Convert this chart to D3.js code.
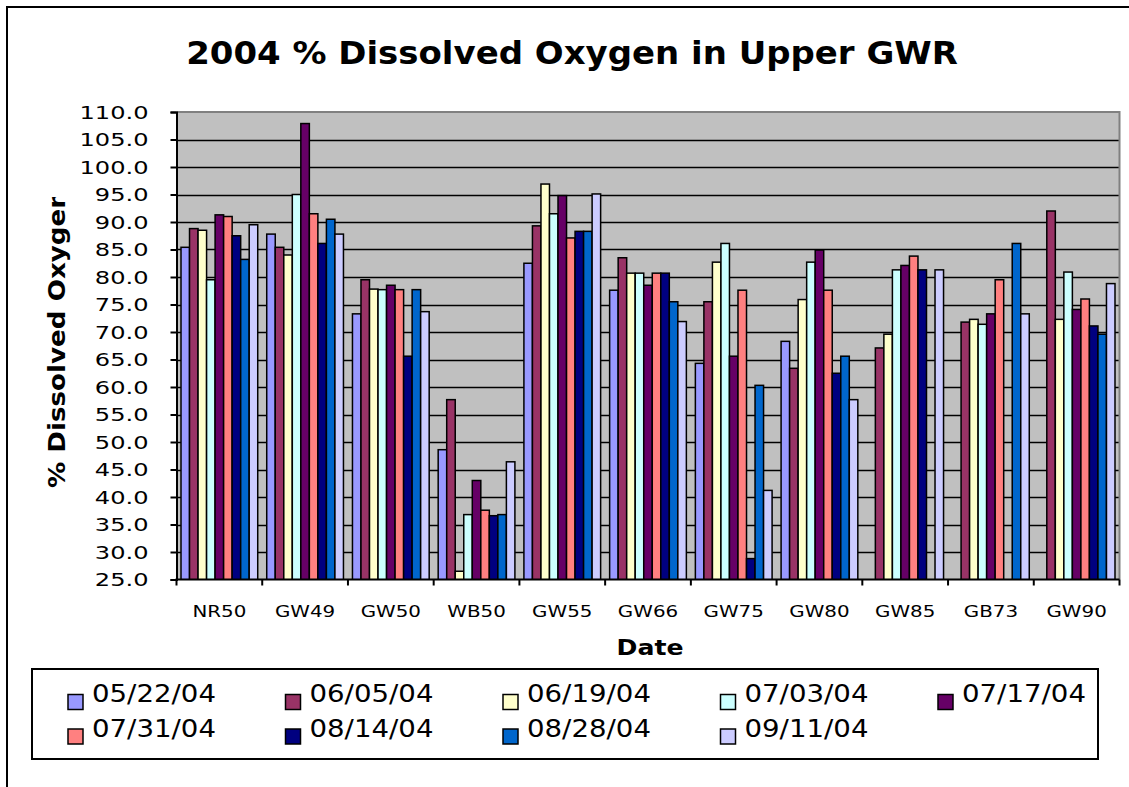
<!DOCTYPE html>
<html>
<head>
<meta charset="utf-8">
<script src="https://cdn.jsdelivr.net/npm/d3@7"></script>
<style>
  html, body { margin: 0; padding: 0; background: #fff; }
  svg { display: block; }
</style>
</head>
<body>
<svg id="chart" width="1129" height="787"></svg>
<script>
// ---- Data ----
const titleText = "2004 % Dissolved Oxygen in Upper GWR";
const categories = ["NR50", "GW49", "GW50", "WB50", "GW55", "GW66", "GW75", "GW80", "GW85", "GB73", "GW90"];
const dates = ["05/22/04", "06/05/04", "06/19/04", "07/03/04", "07/17/04", "07/31/04", "08/14/04", "08/28/04", "09/11/04"];
const colors = ["#9999FF", "#993366", "#FFFFCC", "#CCFFFF", "#660066", "#FF8080", "#000080", "#0066CC", "#CCCCFF"];
const yTicks = [25, 30, 35, 40, 45, 50, 55, 60, 65, 70, 75, 80, 85, 90, 95, 100, 105, 110];

const d0522 = [85.4, 87.8, 73.3, 48.6, 82.5, 77.6, 64.3, 68.3, null, null, null];
const d0605 = [88.8, 85.4, 79.5, 57.7, 89.3, 83.5, 75.5, 63.4, 67.1, 71.8, 92.0];
const d0619 = [88.5, 84.0, 77.8, 26.5, 96.9, 80.7, 82.7, 75.9, 69.6, 72.3, 72.3];
const d0703 = [79.5, 95.0, 77.7, 36.8, 91.5, 80.7, 86.1, 82.7, 81.3, 71.4, 80.9];
const d0717 = [91.3, 107.9, 78.5, 43.0, 94.8, 78.5, 65.6, 84.9, 82.1, 73.3, 74.1];
const d0731 = [91.0, 91.5, 77.7, 37.6, 87.1, 80.7, 77.6, 77.6, 83.8, 79.5, 76.0];
const d0814 = [87.5, 86.1, 65.6, 36.6, 88.3, 80.7, 28.8, 62.5, 81.3, null, 71.1];
const d0828 = [83.2, 90.5, 77.7, 36.8, 88.3, 75.5, 60.3, 65.6, null, 86.1, 69.6];
const d0911 = [89.5, 87.8, 73.7, 46.4, 95.1, 71.9, 41.2, 57.7, 81.3, 73.3, 78.8];
const seriesValues = [d0522, d0605, d0619, d0703, d0717, d0731, d0814, d0828, d0911];

// ---- Layout ----
const plot = { left: 176.5, right: 1119.5, top: 112, bottom: 579.5 };
const svg = d3.select("#chart");
const FONT = "'DejaVu Sans', Verdana, sans-serif";

// measuring helper for horizontally stretched text
const measurer = svg.append("text").attr("x", -1000).attr("y", -1000).style("font-family", FONT);
function stretchFor(str, size, weight, target) {
  measurer.style("font-size", size + "px").style("font-weight", weight).text(str);
  const w = measurer.node().getComputedTextLength();
  return target / w;
}

// outer chart border
svg.append("rect").attr("x", 7).attr("y", 7).attr("width", 1300).attr("height", 1000)
  .attr("fill", "#fff").attr("stroke", "#000").attr("stroke-width", 2);

const x0 = d3.scaleBand().domain(categories).range([plot.left, plot.right])
  .paddingInner(0.105).paddingOuter(0.0525);
const x1 = d3.scaleBand().domain(dates).range([0, x0.bandwidth()]).padding(0);
const y = d3.scaleLinear().domain([25, 110]).range([plot.bottom, plot.top]);

// plot background
svg.append("rect").attr("x", plot.left).attr("y", plot.top)
  .attr("width", plot.right - plot.left).attr("height", plot.bottom - plot.top)
  .attr("fill", "#C0C0C0");

// gridlines
svg.append("g").selectAll("line").data(yTicks.filter(t => t > 25 && t < 110)).join("line")
  .attr("x1", plot.left).attr("x2", plot.right)
  .attr("y1", d => Math.round(y(d)) + 0.5).attr("y2", d => Math.round(y(d)) + 0.5)
  .attr("stroke", "#000").attr("stroke-width", 1.3);

// plot border top/right (gray)
svg.append("path")
  .attr("d", `M${plot.left},${plot.top} H${plot.right} V${plot.bottom}`)
  .attr("fill", "none").attr("stroke", "#808080").attr("stroke-width", 2);

// bars
svg.append("clipPath").attr("id", "plotclip").append("rect")
  .attr("x", plot.left).attr("y", plot.top).attr("width", plot.right - plot.left).attr("height", plot.bottom - plot.top);
const barsG = svg.append("g").attr("clip-path", "url(#plotclip)");
seriesValues.forEach((vals, si) => {
  const data = categories.map((c, ci) => ({ c, v: vals[ci] })).filter(d => d.v !== null && d.v > 25);
  barsG.append("g").selectAll("rect").data(data).join("rect")
    .attr("x", d => x0(d.c) + x1(dates[si]))
    .attr("y", d => y(d.v))
    .attr("width", x1.bandwidth())
    .attr("height", d => y(25) - y(d.v) + 2)
    .attr("fill", colors[si])
    .attr("stroke", "#000").attr("stroke-width", 1.5);
});

// Y axis
const yAxis = d3.axisLeft(y).tickValues(yTicks).tickSize(6).tickFormat("");
const yAxisG = svg.append("g").attr("transform", `translate(${plot.left},0)`).call(yAxis);
yAxisG.select(".domain").attr("stroke", "#000").attr("stroke-width", 2);
yAxisG.selectAll(".tick line").attr("stroke", "#000").attr("stroke-width", 2);

const yLabSize = 18.5;
const ySx = stretchFor("110.0", yLabSize, "normal", 69);
svg.append("g").selectAll("text").data(yTicks).join("text")
  .attr("transform", d => `translate(148.5,${y(d) + 6.8}) scale(${ySx},1)`)
  .attr("text-anchor", "end")
  .style("font-family", FONT).style("font-size", yLabSize + "px").attr("fill", "#000")
  .text(d => d.toFixed(1));

// X axis
const xAxisG = svg.append("g").attr("transform", `translate(0,${plot.bottom})`);
xAxisG.append("line").attr("x1", plot.left - 1).attr("x2", plot.right)
  .attr("y1", 0).attr("y2", 0).attr("stroke", "#000").attr("stroke-width", 2);
const boundaries = categories.map(c => x0(c) - x0.step() * x0.paddingOuter()).concat([plot.right]);
xAxisG.selectAll("line.tk").data(boundaries).join("line").attr("class", "tk")
  .attr("x1", d => d).attr("x2", d => d).attr("y1", 0).attr("y2", 6)
  .attr("stroke", "#000").attr("stroke-width", 2);

const xLabSize = 16;
const xSx = stretchFor("NR50", xLabSize, "normal", 54);
svg.append("g").selectAll("text").data(categories).join("text")
  .attr("transform", d => `translate(${x0(d) + x0.bandwidth() / 2},616.5) scale(${xSx},1)`)
  .attr("text-anchor", "middle")
  .style("font-family", FONT).style("font-size", xLabSize + "px").attr("fill", "#000")
  .text(d => d);

// Title
const tSize = 32;
const tSx = stretchFor(titleText, tSize, "bold", 772);
svg.append("text")
  .attr("transform", `translate(572,63.5) scale(${tSx},1)`)
  .attr("text-anchor", "middle")
  .style("font-family", FONT).style("font-size", tSize + "px").style("font-weight", "bold")
  .text(titleText);

// X title
const dSize = 22;
const dSx = stretchFor("Date", dSize, "bold", 67);
svg.append("text")
  .attr("transform", `translate(650,655) scale(${dSx},1)`)
  .attr("text-anchor", "middle")
  .style("font-family", FONT).style("font-size", dSize + "px").style("font-weight", "bold")
  .text("Date");

// Y title (clipped at the top, as in the original)
svg.append("clipPath").attr("id", "ytclip").append("rect")
  .attr("x", 20).attr("y", 197).attr("width", 80).attr("height", 320);
const ytSize = 23;
const ytSx = stretchFor("% Dissolved Oxygen", ytSize, "bold", 298);
svg.append("g").attr("clip-path", "url(#ytclip)")
  .append("text")
  .attr("transform", `translate(65,488) rotate(-90) scale(${ytSx},1)`)
  .attr("text-anchor", "start")
  .style("font-family", FONT).style("font-size", ytSize + "px").style("font-weight", "bold")
  .text("% Dissolved Oxygen");

// Legend
svg.append("rect").attr("x", 32).attr("y", 669).attr("width", 1066).attr("height", 90)
  .attr("fill", "#fff").attr("stroke", "#000").attr("stroke-width", 2);
const lgSize = 24;
const lgSx = stretchFor("05/22/04", lgSize, "normal", 124);
const colX = [68, 285.5, 503, 720.5, 938];
const rowY = [694.5, 729];
const items = svg.append("g").selectAll("g").data(dates).join("g")
  .attr("transform", (d, i) => `translate(${colX[i % 5]},${rowY[Math.floor(i / 5)]})`);
items.append("rect").attr("x", 0).attr("y", 0).attr("width", 15).attr("height", 15)
  .attr("fill", (d, i) => colors[i]).attr("stroke", "#000").attr("stroke-width", 1.5);
items.append("text")
  .attr("transform", `translate(24,7.5) scale(${lgSx},1)`)
  .style("font-family", FONT).style("font-size", lgSize + "px").attr("fill", "#000")
  .text(d => d);

measurer.remove();
</script>
</body>
</html>
